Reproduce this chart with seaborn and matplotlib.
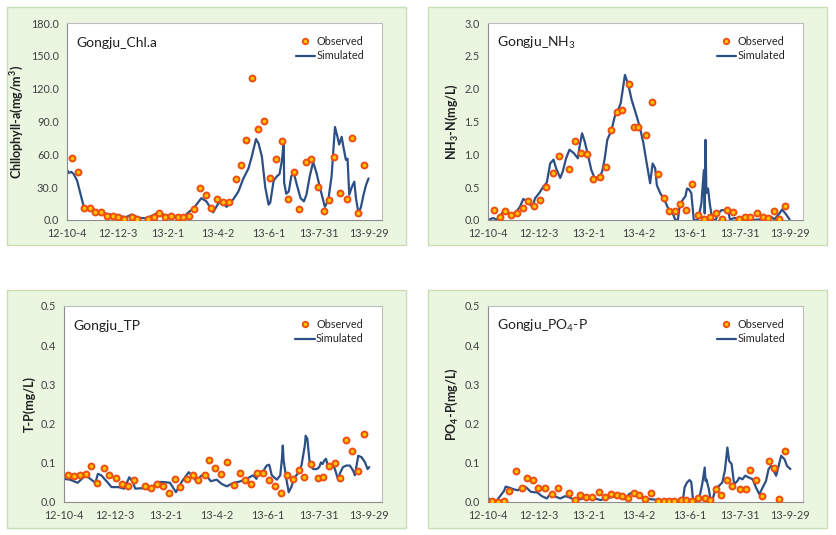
import matplotlib
matplotlib.use("Agg")
import matplotlib.pyplot as plt
from matplotlib.patches import Rectangle
from matplotlib.lines import Line2D
import seaborn as sns
import pandas as pd

# ---------------- data (day offset from 2012-10-04) ----------------
tick_days = [0, 60, 120, 180, 240, 300, 360]
tick_labels = ["12-10-4", "12-12-3", "13-2-1", "13-4-2", "13-6-1", "13-7-31", "13-9-29"]

chl_obs_day = [6, 13, 20, 27, 33, 41, 48, 55, 61, 68, 77, 83, 96, 103, 110, 117, 124, 132, 138, 145,
               151, 158, 166, 172, 178, 186, 193, 201, 207, 213, 220, 227, 235, 242, 249, 256, 263,
               270, 276, 284, 291, 299, 306, 312, 318, 325, 333, 339, 346, 353]
chl_obs_val = [57, 44, 11, 11, 7, 7, 4, 4, 3, 1, 3, 1, 1, 3, 6, 3, 4, 2.5, 2.5, 4,
               10, 29, 23, 11, 19, 16, 16, 37.5, 50, 73, 130, 83, 90.6, 38, 56, 72, 19,
               44, 10, 53, 56, 30.5, 8.5, 18, 58, 25, 19, 75, 6, 50]
chl_sim_day = [0, 2, 5, 8, 12, 16, 20, 30, 45, 60, 70, 77, 85, 95, 109, 118, 130, 140, 143, 151,
               160, 166, 174, 180, 184, 190, 198, 204, 210, 216, 220, 225, 228, 232, 236, 240, 242,
               246, 250, 253, 256, 258, 258.5, 261, 264, 267, 270, 273, 278, 282, 285, 289, 293,
               297, 301, 307, 311, 315, 319, 322, 324, 327, 329, 332, 334, 336, 339, 342, 344,
               347, 350, 353, 356, 359]
chl_sim_val = [46, 43, 44, 42, 36, 24, 12, 10, 6, 4, 2.5, 5, 2, 1.5, 7, 4, 3, 3, 6, 11,
               20, 17, 7, 15, 17, 12, 19, 26, 38, 47, 58, 74, 70, 58, 30, 14, 16,
               36, 40, 42, 55, 72, 34, 24, 26, 40, 43, 34, 20, 17, 23, 40, 53,
               43, 30, 12, 18, 40, 85, 76, 69, 76, 67, 55, 56, 23, 30, 35, 20,
               6, 12, 23, 32, 38]

nh3_obs_day = [7, 14, 20, 27, 34, 42, 48, 55, 62, 69, 77, 84, 97, 104, 111, 118, 125, 133, 140, 147,
               154, 160, 168, 174, 179, 188, 195, 202, 210, 216, 223, 229, 236, 243, 250, 257,
               264, 271, 278, 285, 292, 299, 306, 312, 320, 327, 333, 341, 347, 354]
nh3_obs_val = [0.15, 0.04, 0.14, 0.08, 0.11, 0.18, 0.29, 0.22, 0.31, 0.50, 0.72, 0.97, 0.78, 1.20,
               1.02, 1.00, 0.63, 0.66, 0.81, 1.37, 1.65, 1.67, 2.07, 1.41, 1.41, 1.30, 1.80, 0.70,
               0.33, 0.13, 0.13, 0.25, 0.15, 0.55, 0.08, 0.01, 0.04, 0.10, 0.01, 0.15, 0.12, 0.02,
               0.04, 0.04, 0.10, 0.04, 0.03, 0.14, 0.02, 0.21]
nh3_sim_day = [0, 6, 12, 18, 24, 32, 38, 42, 45, 49, 53, 56, 61, 66, 70, 74, 78, 81, 86, 89, 93, 97,
               102, 107, 109, 112, 115, 119, 123, 127, 133, 136, 139, 142, 147, 151, 155, 158, 163,
               167, 171, 177, 181, 185, 189, 193, 196, 199, 201, 205, 210, 216, 220, 223, 226, 228,
               232, 235, 237, 239, 242, 245, 250, 254, 257, 258, 259, 260, 262, 264, 267, 271, 274,
               278, 282, 286, 288, 294, 300, 308, 316, 324, 331, 337, 341, 347, 350, 354, 359]
nh3_sim_val = [0.0, 0.03, 0.0, 0.13, 0.10, 0.10, 0.20, 0.32, 0.30, 0.25, 0.20, 0.33, 0.41, 0.51,
               0.57, 0.86, 0.92, 0.79, 0.64, 0.74, 0.94, 1.07, 1.02, 0.94, 1.12, 1.32, 1.20, 0.99,
               0.76, 0.64, 0.66, 0.74, 0.94, 1.22, 1.37, 1.58, 1.68, 1.78, 2.21, 2.06, 1.83, 1.58,
               1.40, 1.17, 0.86, 0.56, 0.86, 0.79, 0.53, 0.41, 0.31, 0.13, 0.10, 0.0, 0.0, 0.20,
               0.31, 0.36, 0.48, 0.47, 0.41, 0.0, 0.0, 0.25, 0.76, 0.10, 1.22, 0.41, 0.48, 0.25,
               0.0, 0.0, 0.10, 0.15, 0.15, 0.13, 0.01, 0.03, 0.0, 0.01, 0.0, 0.01, 0.02, 0.05,
               0.01, 0.10, 0.16, 0.10, 0.01]

tp_obs_day = [5, 12, 19, 26, 32, 39, 47, 53, 61, 68, 76, 83, 96, 103, 110, 117, 124, 131, 137, 145,
              152, 158, 166, 171, 178, 185, 192, 200, 207, 214, 220, 228, 235, 242, 249, 256, 263,
              270, 277, 283, 291, 299, 305, 312, 319, 325, 333, 340, 347, 354]
tp_obs_val = [0.070, 0.066, 0.069, 0.071, 0.091, 0.049, 0.086, 0.068, 0.061, 0.046, 0.042, 0.056,
              0.042, 0.035, 0.046, 0.041, 0.023, 0.059, 0.038, 0.059, 0.068, 0.057, 0.070, 0.106,
              0.086, 0.071, 0.103, 0.044, 0.074, 0.057, 0.045, 0.074, 0.074, 0.056, 0.042, 0.024,
              0.068, 0.059, 0.082, 0.063, 0.096, 0.061, 0.065, 0.091, 0.100, 0.062, 0.158, 0.131,
              0.079, 0.173]
tp_sim_day = [0, 7, 16, 22, 26, 31, 37, 40, 44, 51, 56, 64, 71, 77, 81, 84, 90, 96, 102, 109, 117,
              125, 132, 139, 147, 151, 156, 160, 166, 173, 180, 186, 192, 200, 207, 215, 223, 227,
              229, 235, 239, 242, 245, 251, 255, 257, 258, 259, 262, 265, 268, 272, 277, 280, 284,
              285, 287, 290, 294, 298, 301, 303, 305, 307, 309, 312, 315, 318, 320, 323, 326, 329,
              333, 337, 341, 343, 347, 351, 355, 358, 360]
tp_sim_val = [0.059, 0.057, 0.049, 0.061, 0.068, 0.059, 0.049, 0.072, 0.068, 0.051, 0.038, 0.038,
              0.034, 0.063, 0.052, 0.034, 0.035, 0.035, 0.030, 0.051, 0.051, 0.049, 0.025, 0.052,
              0.076, 0.068, 0.053, 0.063, 0.074, 0.053, 0.057, 0.046, 0.040, 0.049, 0.052, 0.059,
              0.068, 0.059, 0.076, 0.079, 0.093, 0.095, 0.068, 0.057, 0.068, 0.110, 0.144, 0.106,
              0.061, 0.025, 0.038, 0.063, 0.076, 0.093, 0.144, 0.169, 0.161, 0.093, 0.084, 0.084,
              0.089, 0.101, 0.097, 0.106, 0.110, 0.084, 0.089, 0.093, 0.080, 0.059, 0.076, 0.089,
              0.093, 0.093, 0.080, 0.068, 0.118, 0.114, 0.101, 0.084, 0.089]

po4_obs_day = [5, 12, 19, 25, 33, 40, 47, 54, 60, 68, 76, 83, 96, 103, 110, 117, 124, 132, 139, 146,
               153, 160, 167, 174, 180, 187, 194, 202, 209, 216, 222, 230, 236, 243, 250, 258, 264,
               271, 277, 284, 291, 300, 307, 312, 319, 326, 334, 341, 347, 354]
po4_obs_val = [0.003, 0.0, 0.003, 0.027, 0.080, 0.035, 0.062, 0.056, 0.035, 0.035, 0.020, 0.035,
               0.022, 0.006, 0.017, 0.013, 0.013, 0.025, 0.013, 0.020, 0.017, 0.015, 0.011, 0.022,
               0.017, 0.007, 0.024, 0.003, 0.003, 0.003, 0.003, 0.005, 0.004, 0.003, 0.009, 0.009,
               0.004, 0.032, 0.017, 0.056, 0.041, 0.034, 0.034, 0.081, 0.056, 0.015, 0.105, 0.088,
               0.007, 0.129]
po4_sim_day = [0, 3, 9, 13, 19, 21, 25, 31, 36, 41, 45, 51, 59, 64, 70, 74, 80, 86, 92, 98, 103, 110,
               116, 124, 134, 140, 148, 156, 163, 168, 174, 180, 186, 194, 204, 214, 220, 226, 232,
               234, 237, 240, 242, 244, 248, 252, 255, 258, 259, 260, 263, 265, 268, 271, 275, 279,
               282, 285, 287, 290, 293, 297, 299, 303, 306, 311, 315, 319, 323, 327, 331, 334, 337,
               340, 343, 346, 349, 353, 356, 360]
po4_sim_val = [0.011, 0.003, 0.0, 0.011, 0.028, 0.039, 0.037, 0.032, 0.030, 0.041, 0.038, 0.026,
               0.024, 0.015, 0.009, 0.020, 0.014, 0.009, 0.015, 0.011, 0.005, 0.007, 0.011, 0.011,
               0.005, 0.009, 0.013, 0.013, 0.007, 0.020, 0.027, 0.015, 0.011, 0.007, 0.005, 0.003,
               0.003, 0.003, 0.003, 0.037, 0.050, 0.056, 0.051, 0.007, 0.003, 0.015, 0.045, 0.088,
               0.054, 0.058, 0.032, 0.003, 0.011, 0.037, 0.041, 0.050, 0.080, 0.139, 0.105, 0.097,
               0.045, 0.054, 0.062, 0.058, 0.067, 0.062, 0.058, 0.037, 0.020, 0.037, 0.054, 0.084,
               0.092, 0.080, 0.067, 0.092, 0.118, 0.109, 0.092, 0.084]

# ---------------- style ----------------
sns.set_style("white")
plt.rcParams["font.family"] = ["Lato", "DejaVu Sans"]
plt.rcParams["mathtext.fontset"] = "custom"
plt.rcParams["mathtext.rm"] = "Lato"
plt.rcParams["mathtext.bf"] = "Lato:bold"
plt.rcParams["mathtext.it"] = "Lato:italic"

LINE_C = "#2C4F86"
MK_FACE = "#FFC000"
MK_EDGE = "#EE4E10"
GREEN_FACE = "#EBF6E1"
GREEN_EDGE = "#C9DEB5"
TXT = "#404040"

W, H = 837, 535
fig = plt.figure(figsize=(W / 100, H / 100), dpi=100)
fig.patch.set_facecolor("white")


def fr(x0, y0, x1, y1):
    return [x0 / W, 1 - y1 / H, (x1 - x0) / W, (y1 - y0) / H]


# green chart-area boxes
for (x0, y0, x1, y1) in [(7, 7, 406, 245), (428, 7, 827, 245), (7, 290, 406, 528), (428, 290, 827, 528)]:
    fig.patches.append(Rectangle((x0 / W, 1 - y1 / H), (x1 - x0) / W, (y1 - y0) / H,
                                 transform=fig.transFigure, facecolor=GREEN_FACE,
                                 edgecolor=GREEN_EDGE, linewidth=1.0, zorder=-10))

panels = [
    dict(rect=fr(67, 23, 382, 220), od=chl_obs_day, ov=chl_obs_val, sd=chl_sim_day, sv=chl_sim_val,
         ymax=180, step=30, title="Gongju_Chl.a", ylabel=r"Chllophyll-a(mg/m$^\mathbf{3}$)"),
    dict(rect=fr(488, 23, 803, 220), od=nh3_obs_day, ov=nh3_obs_val, sd=nh3_sim_day, sv=nh3_sim_val,
         ymax=3.0, step=0.5, title=r"Gongju_NH$_3$", ylabel=r"NH$_\mathbf{3}$-N(mg/L)"),
    dict(rect=fr(64, 306, 382, 502), od=tp_obs_day, ov=tp_obs_val, sd=tp_sim_day, sv=tp_sim_val,
         ymax=0.5, step=0.1, title="Gongju_TP", ylabel="T-P(mg/L)"),
    dict(rect=fr(488, 306, 803, 502), od=po4_obs_day, ov=po4_obs_val, sd=po4_sim_day, sv=po4_sim_val,
         ymax=0.5, step=0.1, title=r"Gongju_PO$_4$-P", ylabel=r"PO$_\mathbf{4}$-P(mg/L)"),
]

for p in panels:
    ax = fig.add_axes(p["rect"])
    ax.set_zorder(5)
    ax.set_facecolor("white")
    sim = pd.DataFrame({"day": p["sd"], "val": p["sv"]})
    obs = pd.DataFrame({"day": p["od"], "val": p["ov"]})
    sns.lineplot(data=sim, x="day", y="val", ax=ax, color=LINE_C, linewidth=1.6, zorder=2)
    sns.scatterplot(data=obs, x="day", y="val", ax=ax, color=MK_FACE, edgecolor=MK_EDGE,
                    linewidth=1.4, s=18, zorder=3)
    ax.set_xlim(0, 375)
    ax.set_ylim(0, p["ymax"])
    nticks = int(round(p["ymax"] / p["step"]))
    yt = [i * p["step"] for i in range(nticks + 1)]
    ax.set_yticks(yt)
    ax.set_yticklabels([f"{v:.1f}" for v in yt])
    ax.set_xticks(tick_days)
    ax.set_xticklabels(tick_labels)
    ax.tick_params(axis="both", direction="out", length=3, width=0.8, color="#8C8C8C",
                   labelsize=7.8, labelcolor=TXT, pad=3)
    ax.tick_params(axis="x", pad=3)
    for s in ax.spines.values():
        s.set_color("#BDBDBD")
        s.set_linewidth(0.8)
    ax.spines["left"].set_color("#8C8C8C")
    ax.spines["bottom"].set_color("#8C8C8C")
    ax.set_xlabel("")
    ax.set_ylabel(p["ylabel"], fontsize=9, fontweight="bold", color="#202020", labelpad=3)
    ax.text(0.03, 0.9, p["title"], transform=ax.transAxes, fontsize=10, color="#202020",
            ha="left", va="center")
    handles = [Line2D([], [], linestyle="none", marker="o", markersize=4.0,
                      markerfacecolor=MK_FACE, markeredgecolor=MK_EDGE, markeredgewidth=1.3),
               Line2D([], [], color=LINE_C, linewidth=1.6)]
    ax.legend(handles, ["Observed", "Simulated"], loc="upper right", frameon=False,
              fontsize=7.8, handlelength=1.8, handletextpad=0.1, labelspacing=0.35,
              borderaxespad=0.4, bbox_to_anchor=(0.97, 0.98))

fig.savefig("out.png", dpi=100, facecolor="white")
